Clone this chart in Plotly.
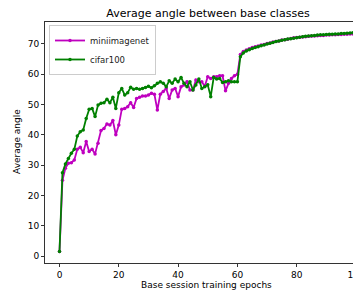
import plotly.graph_objects as go

epochs = list(range(100))

miniimagenet = [
    1.5, 25.0, 29.0, 30.6, 30.8, 31.7, 35.2, 35.9, 34.1, 37.8,
    34.5, 35.2, 33.7, 37.2, 41.4, 42.1, 43.6, 43.2, 44.7, 40.0,
    43.2, 48.4, 48.7, 49.3, 50.6, 49.0, 52.0, 52.4, 52.8, 52.8,
    53.1, 53.7, 53.4, 48.2, 53.4, 54.3, 55.3, 52.0, 54.8, 55.3,
    52.6, 55.9, 56.4, 57.5, 54.8, 54.8, 58.1, 57.5, 57.5, 56.0,
    59.2, 58.6, 59.2, 59.2, 59.5, 59.5, 54.5, 57.0, 58.6, 59.5,
    60.0, 66.5, 67.5, 68.0, 68.4, 68.8, 69.1, 69.3, 69.6, 69.8,
    70.1, 70.3, 70.6, 70.8, 71.0, 71.3, 71.4, 71.5, 71.8, 72.0,
    72.1, 72.2, 72.3, 72.4, 72.5, 72.6, 72.6, 72.7, 72.8, 72.8,
    72.9, 72.9, 73.0, 73.0, 73.1, 73.1, 73.2, 73.2, 73.3, 73.3,
]

cifar100 = [
    1.5, 27.5, 30.4, 32.2, 33.9, 35.2, 39.6, 41.0, 41.6, 45.4,
    48.4, 48.7, 46.0, 49.8, 50.4, 50.6, 51.7, 50.6, 52.4, 48.7,
    53.9, 55.3, 53.1, 53.9, 55.7, 55.0, 55.3, 55.0, 55.3, 55.6,
    56.0, 55.5, 56.2, 57.0, 57.5, 57.0, 55.9, 57.8, 57.0, 58.4,
    57.5, 58.9, 57.0, 55.9, 57.5, 54.8, 56.4, 58.4, 55.3, 55.9,
    56.5, 52.6, 58.9, 58.4, 58.6, 57.3, 57.5, 57.8, 57.5, 57.5,
    57.5, 65.8, 67.0, 67.7, 68.1, 68.5, 68.8, 69.1, 69.4, 69.6,
    70.0, 70.2, 70.5, 70.8, 71.0, 71.2, 71.4, 71.6, 71.7, 71.9,
    72.0, 72.2, 72.4, 72.5, 72.6, 72.7, 72.8, 72.9, 73.0, 73.0,
    73.1, 73.2, 73.2, 73.3, 73.3, 73.4, 73.4, 73.5, 73.6, 73.7,
]

x_ticks = [0, 20, 40, 60, 80, 100]
y_ticks = [0, 10, 20, 30, 40, 50, 60, 70]

FONT = "DejaVu Sans"
OFF = 8  # page body margin
W, H = 361 - OFF, 295 - OFF
L, T, B = 45 - OFF, 22 - OFF, 295 - 263
PW, PH = W - L, H - T - B

fig = go.Figure()
fig.add_trace(go.Scatter(
    x=epochs, y=miniimagenet, name="miniimagenet", mode="lines+markers",
    line=dict(color="#bf00bf", width=1.8),
    marker=dict(color="#bf00bf", size=3.5),
))
fig.add_trace(go.Scatter(
    x=epochs, y=cifar100, name="cifar100", mode="lines+markers",
    line=dict(color="#008000", width=1.8),
    marker=dict(color="#008000", size=3.5),
))

fig.update_layout(
    width=W, height=H,
    margin=dict(l=L, r=0, t=T, b=B, pad=0),
    paper_bgcolor="white", plot_bgcolor="white",
    font=dict(family=FONT, size=9, color="black"),
    showlegend=True,
    legend=dict(
        x=(49 - 45) / PW, y=1 - (25 - 22) / PH, xanchor="left", yanchor="top",
        bordercolor="#cccccc", borderwidth=1, bgcolor="rgba(255,255,255,0.8)",
        font=dict(family=FONT, size=8.5, color="#222"),
        itemwidth=30, tracegroupgap=0,
    ),
    title=dict(
        text="Average angle between base classes",
        x=(208 - OFF) / W, xref="container", xanchor="center",
        y=(H - (13 - OFF)) / H, yref="container", yanchor="middle",
        font=dict(family=FONT, size=11, color="black"),
    ),
    xaxis=dict(
        range=[-4.89, 101.69], tickvals=x_ticks, ticktext=[str(v) for v in x_ticks],
        showgrid=False, zeroline=False, showline=True, linecolor="#333", linewidth=1,
        mirror=True, ticks="outside", ticklen=3, tickcolor="#333", automargin=False,
        ticklabeloverflow="allow",
        tickfont=dict(family=FONT, size=9, color="black"),
    ),
    yaxis=dict(
        range=[-2.31, 77.23], tickvals=y_ticks, ticktext=[str(v) for v in y_ticks],
        showgrid=False, zeroline=False, showline=True, linecolor="#333", linewidth=1,
        ticks="outside", ticklen=3, tickcolor="#333", automargin=False,
        tickfont=dict(family=FONT, size=9, color="black"),
    ),
    annotations=[
        dict(text="Base session training epochs", xref="paper", yref="paper",
             x=(206.5 - 45) / PW, y=(263 - 285) / PH, xanchor="center", yanchor="middle",
             showarrow=False, font=dict(family=FONT, size=9, color="black")),
        dict(text="Average angle", xref="paper", yref="paper",
             x=(17 - 45) / PW, y=(263 - 142) / PH, xanchor="center", yanchor="middle",
             textangle=-90, showarrow=False, font=dict(family=FONT, size=9, color="black")),
    ],
)

fig.write_html("out.html")
